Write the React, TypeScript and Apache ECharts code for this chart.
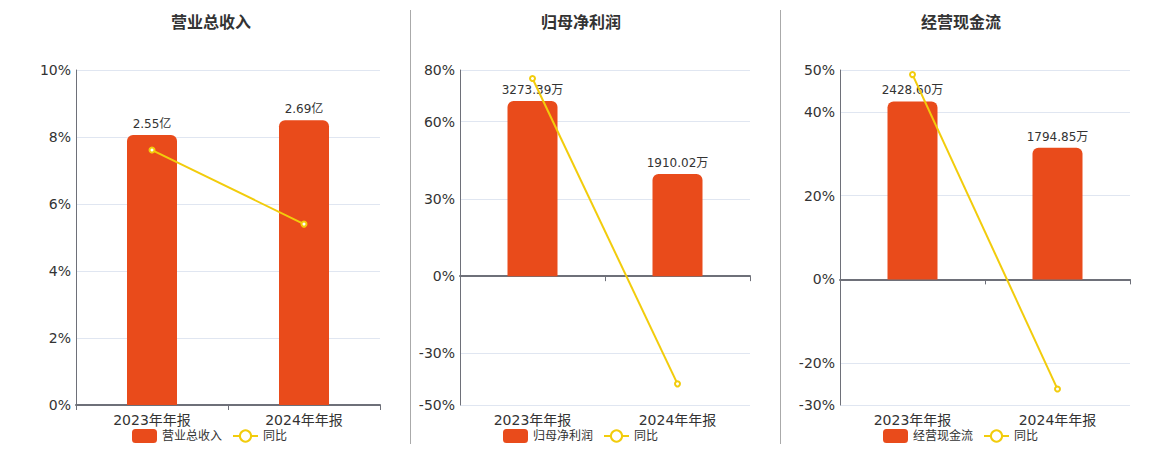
import React, { useEffect, useRef } from 'react';
import * as echarts from 'echarts';

const categories = ['2023年年报', '2024年年报'];
const titles = ['营业总收入', '归母净利润', '经营现金流'];
const revenueValues = [2.55, 2.69];
const profitValues = [3273.39, 1910.02];
const cashValues = [2428.6, 1794.85];
const revenueYoY = [7.61, 5.4];
const profitYoY = [76.7, -41.8];
const cashYoY = [48.9, -26.2];
const units = ['亿', '万', '万'];
const pctTicks1 = [0, 2, 4, 6, 8, 10];
const pctTicks2 = [-50, -30, 0, 30, 60, 80];
const pctTicks3 = [-30, -20, 0, 20, 40, 50];

const BAR_COLOR = '#E94B1B';
const LINE_COLOR = '#F2CC0C';
const FONT = '"DejaVu Sans", "Noto Sans CJK SC", sans-serif';

export default function App() {
  const ref = useRef<HTMLDivElement>(null);
  useEffect(() => {
    document.body.style.margin = '0';
    if (!ref.current) return;
    const chart = echarts.init(ref.current, undefined, { renderer: 'svg' });

    const panels = [
      { values: revenueValues, yoy: revenueYoY, ticks: pctTicks1, left: 76, width: 304, titleLeft: 166, legendLeft: 127 },
      { values: profitValues, yoy: profitYoY, ticks: pctTicks2, left: 460, width: 290, titleLeft: 536, legendLeft: 498 },
      { values: cashValues, yoy: cashYoY, ticks: pctTicks3, left: 840, width: 290, titleLeft: 916, legendLeft: 878 },
    ];

    const grid: any[] = [];
    const xAxis: any[] = [];
    const yAxis: any[] = [];
    const series: any[] = [];
    const title: any[] = [];
    const legend: any[] = [];

    panels.forEach((p, i) => {
      grid.push({ left: p.left, top: 70, width: p.width, height: 335, containLabel: false });
      const pMin = Math.min(...p.ticks);
      const pMax = Math.max(...p.ticks);
      const barMax = Math.max(...p.values) / 0.85;
      const barMin = (barMax * pMin) / pMax;

      xAxis.push({
        type: 'category',
        gridIndex: i,
        data: categories,
        position: 'bottom',
        axisLine: { show: false, onZero: false },
        axisTick: { show: false },
        axisLabel: { color: '#333', fontSize: 14, margin: 8 },
      });
      xAxis.push({
        type: 'category',
        gridIndex: i,
        data: categories,
        position: 'top',
        axisLine: { show: true, onZero: true, lineStyle: { color: '#6E7079', width: 2 } },
        axisTick: { show: true, inside: true, length: 5, lineStyle: { color: '#6E7079' } },
        axisLabel: { show: false },
      });
      yAxis.push({
        type: 'value',
        gridIndex: i,
        min: pMin,
        max: pMax,
        axisLine: { show: true, lineStyle: { color: '#6E7079' } },
        axisTick: { show: false, customValues: p.ticks },
        axisLabel: {
          customValues: p.ticks,
          color: '#333',
          fontSize: 14,
          margin: 5,
          formatter: (v: number) => v + '%',
        },
        splitLine: { show: true, lineStyle: { color: '#E0E6F1' } },
      });
      yAxis.push({
        type: 'value',
        gridIndex: i,
        min: barMin,
        max: barMax,
        show: false,
        splitLine: { show: false },
      });

      series.push({
        type: 'bar',
        name: titles[i],
        xAxisIndex: i * 2,
        yAxisIndex: i * 2 + 1,
        data: p.values,
        barWidth: 50,
        itemStyle: { color: BAR_COLOR, borderRadius: [6, 6, 0, 0] },
        label: {
          show: true,
          position: 'top',
          color: '#333',
          fontSize: 12,
          formatter: (pr: any) => pr.value.toFixed(2) + units[i],
        },
      });
      series.push({
        type: 'line',
        name: '同比',
        xAxisIndex: i * 2,
        yAxisIndex: i * 2,
        data: p.yoy,
        symbol: 'emptyCircle',
        symbolSize: 5,
        lineStyle: { color: LINE_COLOR, width: 2 },
        itemStyle: { color: LINE_COLOR },
      });

      title.push({
        text: titles[i],
        left: p.titleLeft,
        top: 9,
        textStyle: { color: '#333', fontSize: 16, fontWeight: 'bold', fontFamily: FONT },
      });
      legend.push({
        left: p.legendLeft,
        top: 424,
        itemWidth: 25,
        itemHeight: 14,
        itemGap: 10,
        data: [titles[i], '同比'],
        textStyle: { color: '#333', fontSize: 12, fontFamily: FONT },
      });
    });

    chart.setOption({
      animation: false,
      textStyle: { fontFamily: FONT },
      title,
      legend,
      grid,
      xAxis,
      yAxis,
      series,
      graphic: [
        { type: 'line', shape: { x1: 410.5, y1: 10, x2: 410.5, y2: 444 }, style: { stroke: '#AAAAAA', lineWidth: 1 } },
        { type: 'line', shape: { x1: 780.5, y1: 10, x2: 780.5, y2: 444 }, style: { stroke: '#AAAAAA', lineWidth: 1 } },
      ],
    });
    return () => chart.dispose();
  }, []);
  return <div ref={ref} style={{ width: 1160, height: 450 }} />;
}
